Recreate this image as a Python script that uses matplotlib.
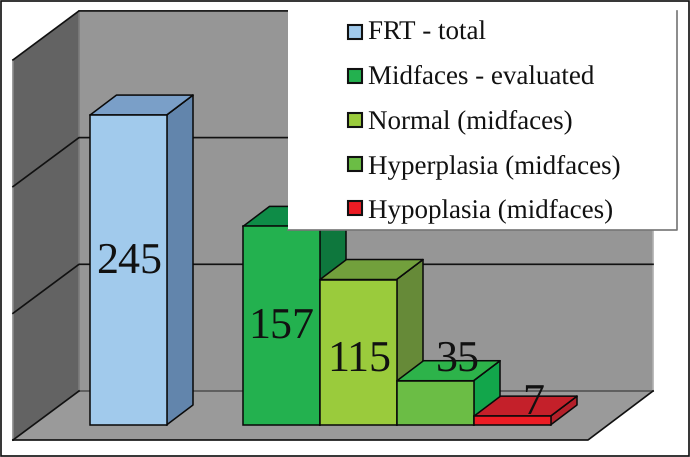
import matplotlib
matplotlib.use('Agg')
import matplotlib.pyplot as plt
from matplotlib.patches import Polygon, Rectangle

# values
names = ['FRT - total', 'Midfaces - evaluated', 'Normal (midfaces)',
         'Hyperplasia (midfaces)', 'Hypoplasia (midfaces)']
values = [245, 157, 115, 35, 7]
grid_values = [100, 200, 300]

# bar colours: front, top, side
front = ['#A1CAEC', '#23B14F', '#9ACB3C', '#6BBD45', '#ED1C24']
top = ['#7A9FC8', '#0E8C47', '#72A03C', '#2DB34A', '#C4202A']
side = ['#6285AC', '#0E773D', '#668A38', '#12A64B', '#B4202A']

# chart geometry in image pixels
bar_left = [90, 243, 320, 397, 474]
bar_w = 76.5
base_y = 425
px_per_unit = 1.265
dx, dy = 26.5, -20
floor_y = 391
unit_wall = 1.267
label_pos = [(129, 273), (281, 338), (359, 371), (458, 371), (533, 414)]
legend_y = [40, 84, 128, 173, 217]
box_y = [32, 76, 120, 164, 208]

plt.rcParams['font.family'] = ['Liberation Serif', 'DejaVu Serif']
plt.rcParams['text.hinting'] = 'no_hinting'
plt.rcParams['text.hinting_factor'] = 1
fig = plt.figure(figsize=(6.9, 4.57), dpi=100)
ax = fig.add_axes([0, 0, 1, 1])
ax.set_xlim(0, 690)
ax.set_ylim(457, 0)
ax.axis('off')

# outer frame
ax.add_patch(Rectangle((0.7, 0.7), 688.6, 455.6, fc='white', ec='#111111', lw=1.2, zorder=0))

# walls and floor
ax.add_patch(Polygon([(79, 11), (653, 11), (653, 391), (79, 391)], fc='#969696', ec='none', zorder=1))
ax.add_patch(Polygon([(13, 60), (79, 11), (79, 391), (13, 440)], fc='#636363', ec='none', zorder=1))
ax.add_patch(Polygon([(13, 440), (79, 391), (653, 391), (588, 440)], fc='#9A9A9A', ec='none', zorder=1))
ax.plot([13, 13], [60, 440], color='#8A8A8A', lw=1.2, zorder=2)
ax.plot([79, 79], [11, 391], color='#7C7C7C', lw=1.2, zorder=2)
ax.plot([653, 653], [11, 391], color='#B0B0B0', lw=1.2, zorder=2)
ax.plot([79, 653], [391, 391], color='#555555', lw=1.2, zorder=2)

# grid lines
for g in grid_values:
    y = floor_y - g * unit_wall
    ax.plot([13, 79, 653], [y + 49, y, y], color='#111111', lw=1.2, zorder=2)
ax.plot([13, 79], [440, 391], color='#111111', lw=1.2, zorder=2)
ax.plot([13, 588, 653], [440, 440, 391], color='#111111', lw=1.2, zorder=2)

# bars, left to right so that later ones cover earlier sides
for i in range(len(values)):
    x0 = bar_left[i]
    x1 = x0 + bar_w
    yt = base_y - values[i] * px_per_unit
    ax.add_patch(Polygon([(x1, base_y), (x1 + dx, base_y + dy), (x1 + dx, yt + dy), (x1, yt)],
                         fc=side[i], ec='#0A0A0A', lw=1.1, joinstyle='round', zorder=3))
    ax.add_patch(Polygon([(x0, yt), (x0 + dx, yt + dy), (x1 + dx, yt + dy), (x1, yt)],
                         fc=top[i], ec='#0A0A0A', lw=1.1, joinstyle='round', zorder=3))
    ax.add_patch(Rectangle((x0, yt), bar_w, base_y - yt, fc=front[i], ec='#0A0A0A', lw=1.1, zorder=3))

# value labels
for v, (lx, ly) in zip(values, label_pos):
    ax.text(lx, ly, str(v), fontsize=32, color='#111111', ha='center', va='baseline', zorder=4)

# legend box
ax.add_patch(Rectangle((288, 9), 389, 221, fc='white', ec='none', zorder=5))
ax.plot([288, 677, 677], [230, 230, 11], color='#777777', lw=1.2, zorder=5)
for name, c, ly, by in zip(names, front, legend_y, box_y):
    ax.add_patch(Rectangle((347.5, by - 7), 14, 14, fc=c, ec='#111111', lw=1.5, zorder=6))
    ax.text(367.5, ly, name, fontsize=19.7, color='#111111', ha='left', va='baseline', zorder=6)

fig.savefig('out.png', dpi=100)
